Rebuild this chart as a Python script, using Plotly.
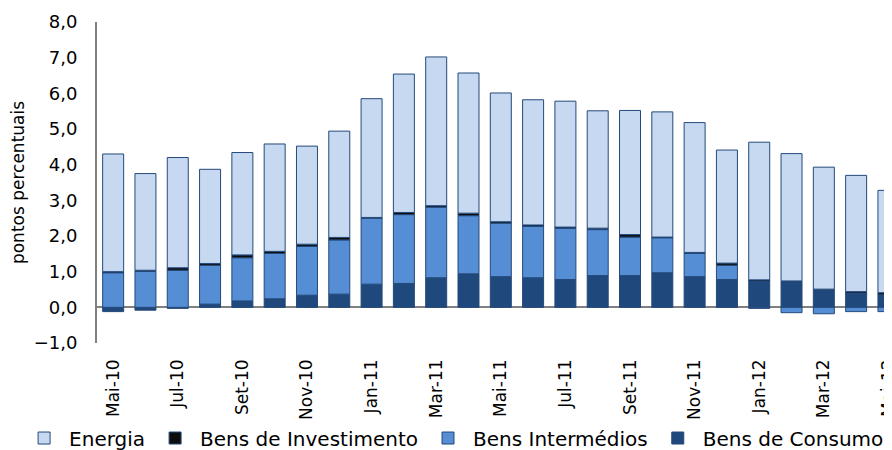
import plotly.graph_objects as go

meses = ["Mai-10", "Jun-10", "Jul-10", "Ago-10", "Set-10", "Out-10", "Nov-10", "Dez-10",
         "Jan-11", "Fev-11", "Mar-11", "Abr-11", "Mai-11", "Jun-11", "Jul-11", "Ago-11",
         "Set-11", "Out-11", "Nov-11", "Dez-11", "Jan-12", "Fev-12", "Mar-12", "Abr-12", "Mai-12"]

bens_consumo = [-0.12, -0.08, -0.03, 0.09, 0.18, 0.24, 0.34, 0.37,
                0.65, 0.67, 0.83, 0.94, 0.86, 0.83, 0.78, 0.89,
                0.89, 0.97, 0.86, 0.78, 0.73, 0.72, 0.47, 0.40, 0.35]
bens_intermedios = [0.97, 1.01, 1.04, 1.09, 1.21, 1.27, 1.37, 1.52,
                    1.85, 1.93, 1.98, 1.63, 1.50, 1.44, 1.43, 1.29,
                    1.08, 0.98, 0.65, 0.40, -0.03, -0.15, -0.18, -0.12, -0.12]
bens_investimento = [0.03, 0.03, 0.07, 0.05, 0.08, 0.06, 0.06, 0.07,
                     0.02, 0.06, 0.04, 0.07, 0.04, 0.04, 0.04, 0.04,
                     0.07, 0.02, 0.03, 0.06, 0.04, 0.02, 0.04, 0.04, 0.06]
energia = [3.30, 2.71, 3.09, 2.64, 2.87, 3.01, 2.75, 2.98,
           3.33, 3.88, 4.17, 3.93, 3.61, 3.51, 3.53, 3.29,
           3.48, 3.51, 3.64, 3.17, 3.86, 3.57, 3.42, 3.26, 2.87]

rotulos_x = meses[::2]

FONT = "DejaVu Sans"
edge = dict(color="#24497A", width=1)

fig = go.Figure()
fig.add_trace(go.Bar(x=meses, y=bens_consumo, name="Bens de Consumo",
                     marker=dict(color="#1F497D", line=edge), legendrank=4))
fig.add_trace(go.Bar(x=meses, y=bens_intermedios, name="Bens Intermédios",
                     marker=dict(color="#558ED5", line=edge), legendrank=3))
fig.add_trace(go.Bar(x=meses, y=bens_investimento, name="Bens de Investimento",
                     marker=dict(color="#0D0D0D", line=edge), legendrank=2))
fig.add_trace(go.Bar(x=meses, y=energia, name="Energia",
                     marker=dict(color="#C6D9F1", line=edge), legendrank=1))

# page has an 8px body margin, so the figure is 884x442 to fit the 892x450 window
fig.update_layout(
    width=884, height=442,
    barmode="relative", bargap=0.35,
    separators=",.",
    plot_bgcolor="white", paper_bgcolor="white",
    margin=dict(l=89, r=0, t=14, b=107, autoexpand=False),
    font=dict(family=FONT, color="#000000"),
    legend=dict(orientation="h", x=-0.098, xref="paper", xanchor="left",
                y=-0.296, yref="paper", yanchor="middle",
                font=dict(size=20, family=FONT), traceorder="normal",
                itemwidth=40, tracegroupgap=0, bgcolor="rgba(0,0,0,0)"),
    showlegend=True,
)
fig.update_xaxes(
    range=[-0.5, 24.11], tickmode="array", tickvals=rotulos_x, ticktext=rotulos_x,
    tickangle=-90, tickfont=dict(size=17, family=FONT), showline=False,
    showgrid=False, ticks="", ticklabelstandoff=12, automargin=False,
)
fig.update_yaxes(
    range=[-1, 8], dtick=1, tickformat=".1f", showgrid=False,
    showline=True, linecolor="#808080", linewidth=2,
    zeroline=True, zerolinecolor="#808080", zerolinewidth=2,
    tickfont=dict(size=18, family=FONT), ticks="", ticklabelstandoff=14,
    automargin=False,
    title=dict(text="pontos percentuais", font=dict(size=17, family=FONT), standoff=12),
)

fig.write_html("out.html")
